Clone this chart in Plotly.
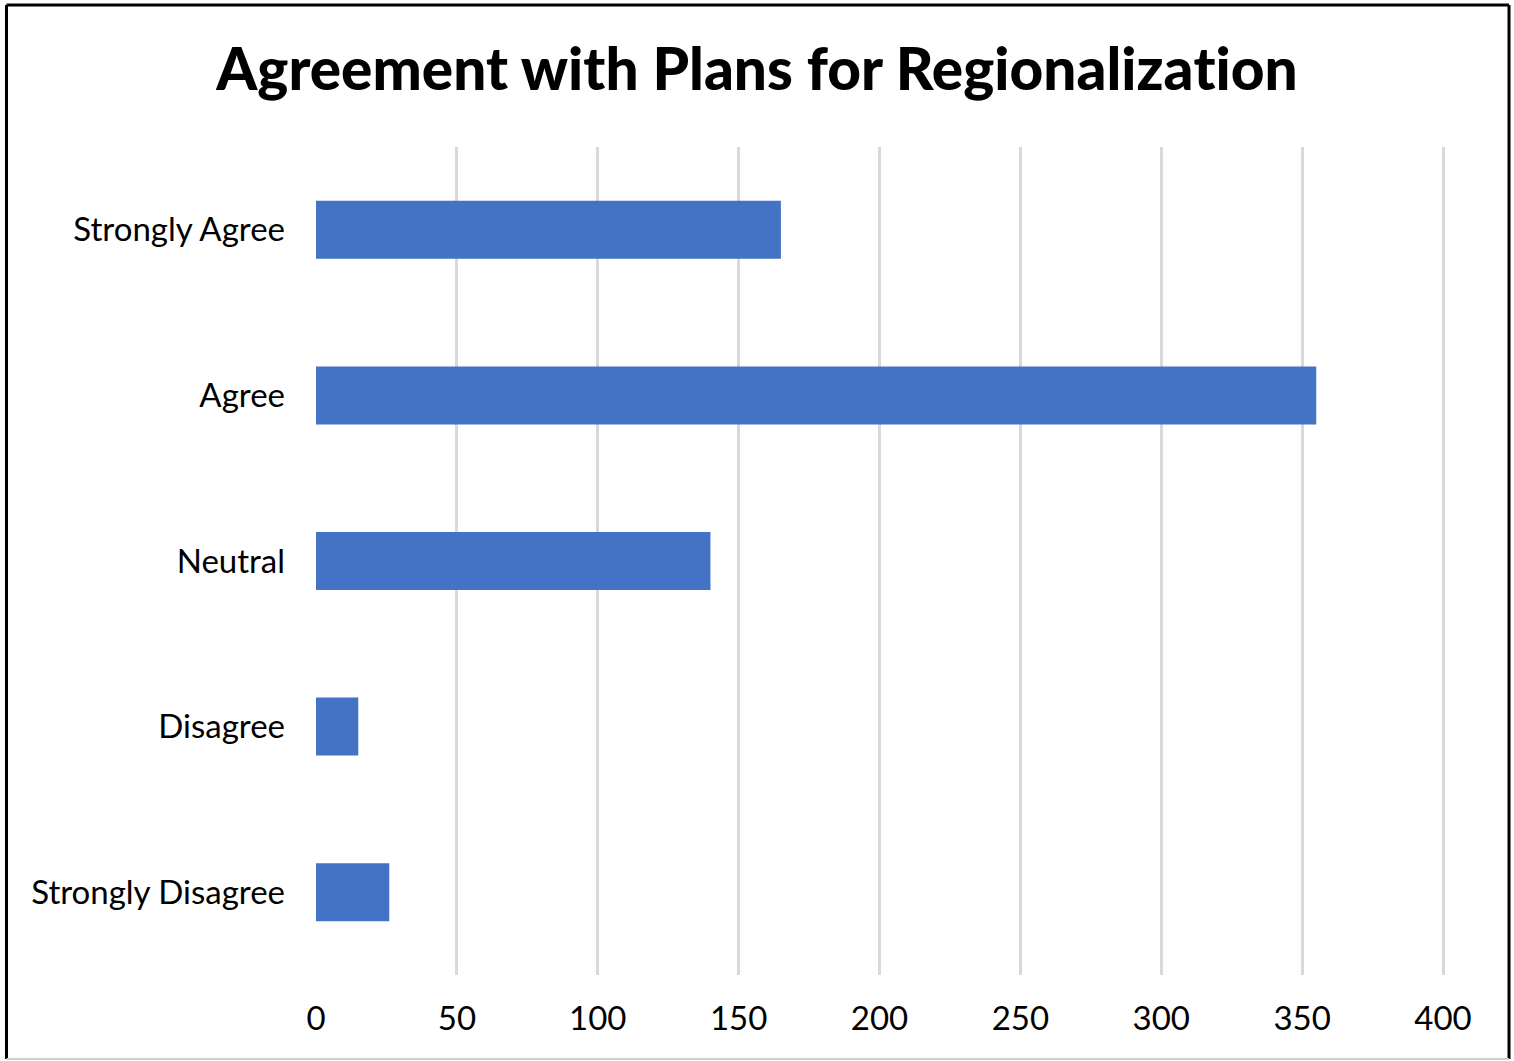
import plotly.graph_objects as go

# Survey responses, drawn top to bottom
categories = ["Strongly Agree", "Agree", "Neutral", "Disagree", "Strongly Disagree"]
counts = [165, 355, 140, 15, 26]
x_ticks = [0, 50, 100, 150, 200, 250, 300, 350, 400]

# Zero-width non-joiner keeps the "ti" pair from merging into a ligature
title_text = "Agreement with Plans for Regionaliza\u200ct\u200cion"

W, H = 1514, 1061
ml, mr, mt, mb = 316, 69, 147, 86

fig = go.Figure(
    go.Bar(
        x=counts,
        y=categories,
        orientation="h",
        marker=dict(color="#4472C4", line=dict(width=0)),
        hoverinfo="x+y",
    )
)

fig.update_layout(
    width=W,
    height=H,
    margin=dict(l=ml, r=mr, t=mt, b=mb),
    paper_bgcolor="white",
    plot_bgcolor="white",
    bargap=0.65,
    showlegend=False,
    title=dict(
        text=title_text,
        x=0.5,
        xanchor="center",
        y=1 - 70 / H,
        yanchor="middle",
        font=dict(family="Lato", size=58.5, color="black", weight=900),
    ),
    font=dict(family="Lato", color="black"),
)

# range runs a little past 400 so the last gridline is still drawn
fig.update_xaxes(
    range=[0, 400.7],
    tickvals=x_ticks,
    ticktext=[str(v) for v in x_ticks],
    showgrid=True,
    gridcolor="#D9D9D9",
    gridwidth=3,
    zeroline=False,
    showline=False,
    ticks="",
    ticklabelstandoff=21,
    tickfont=dict(family="Lato", size=33, color="black"),
    fixedrange=True,
)

fig.update_yaxes(
    categoryorder="array",
    categoryarray=categories[::-1],
    showgrid=False,
    zeroline=False,
    showline=False,
    ticks="",
    ticklabelstandoff=30,
    tickfont=dict(family="Lato", size=33, color="black"),
    fixedrange=True,
)

# Outer frame around the chart (paper coords relative to plot area)
pw = W - ml - mr
ph = H - mt - mb
def px_x(p):
    return (p - ml) / pw
def px_y(p):
    return 1 - (p - mt) / ph

frame_left, frame_right, frame_top, frame_bottom = 6.5, 1509, 5, 1059
for x0, y0, x1, y1, col, w in [
    (frame_left, frame_top, frame_right, frame_top, "black", 3),
    (frame_left, frame_top, frame_left, frame_bottom, "black", 3),
    (frame_right, frame_top, frame_right, frame_bottom, "black", 3),
    (frame_left, frame_bottom, frame_right, frame_bottom, "#D0D0D0", 2),
]:
    fig.add_shape(
        type="line",
        xref="paper", yref="paper",
        x0=px_x(x0), y0=px_y(y0), x1=px_x(x1), y1=px_y(y1),
        line=dict(color=col, width=w),
        layer="above",
    )

fig.write_html("out.html", config={"displayModeBar": False})
